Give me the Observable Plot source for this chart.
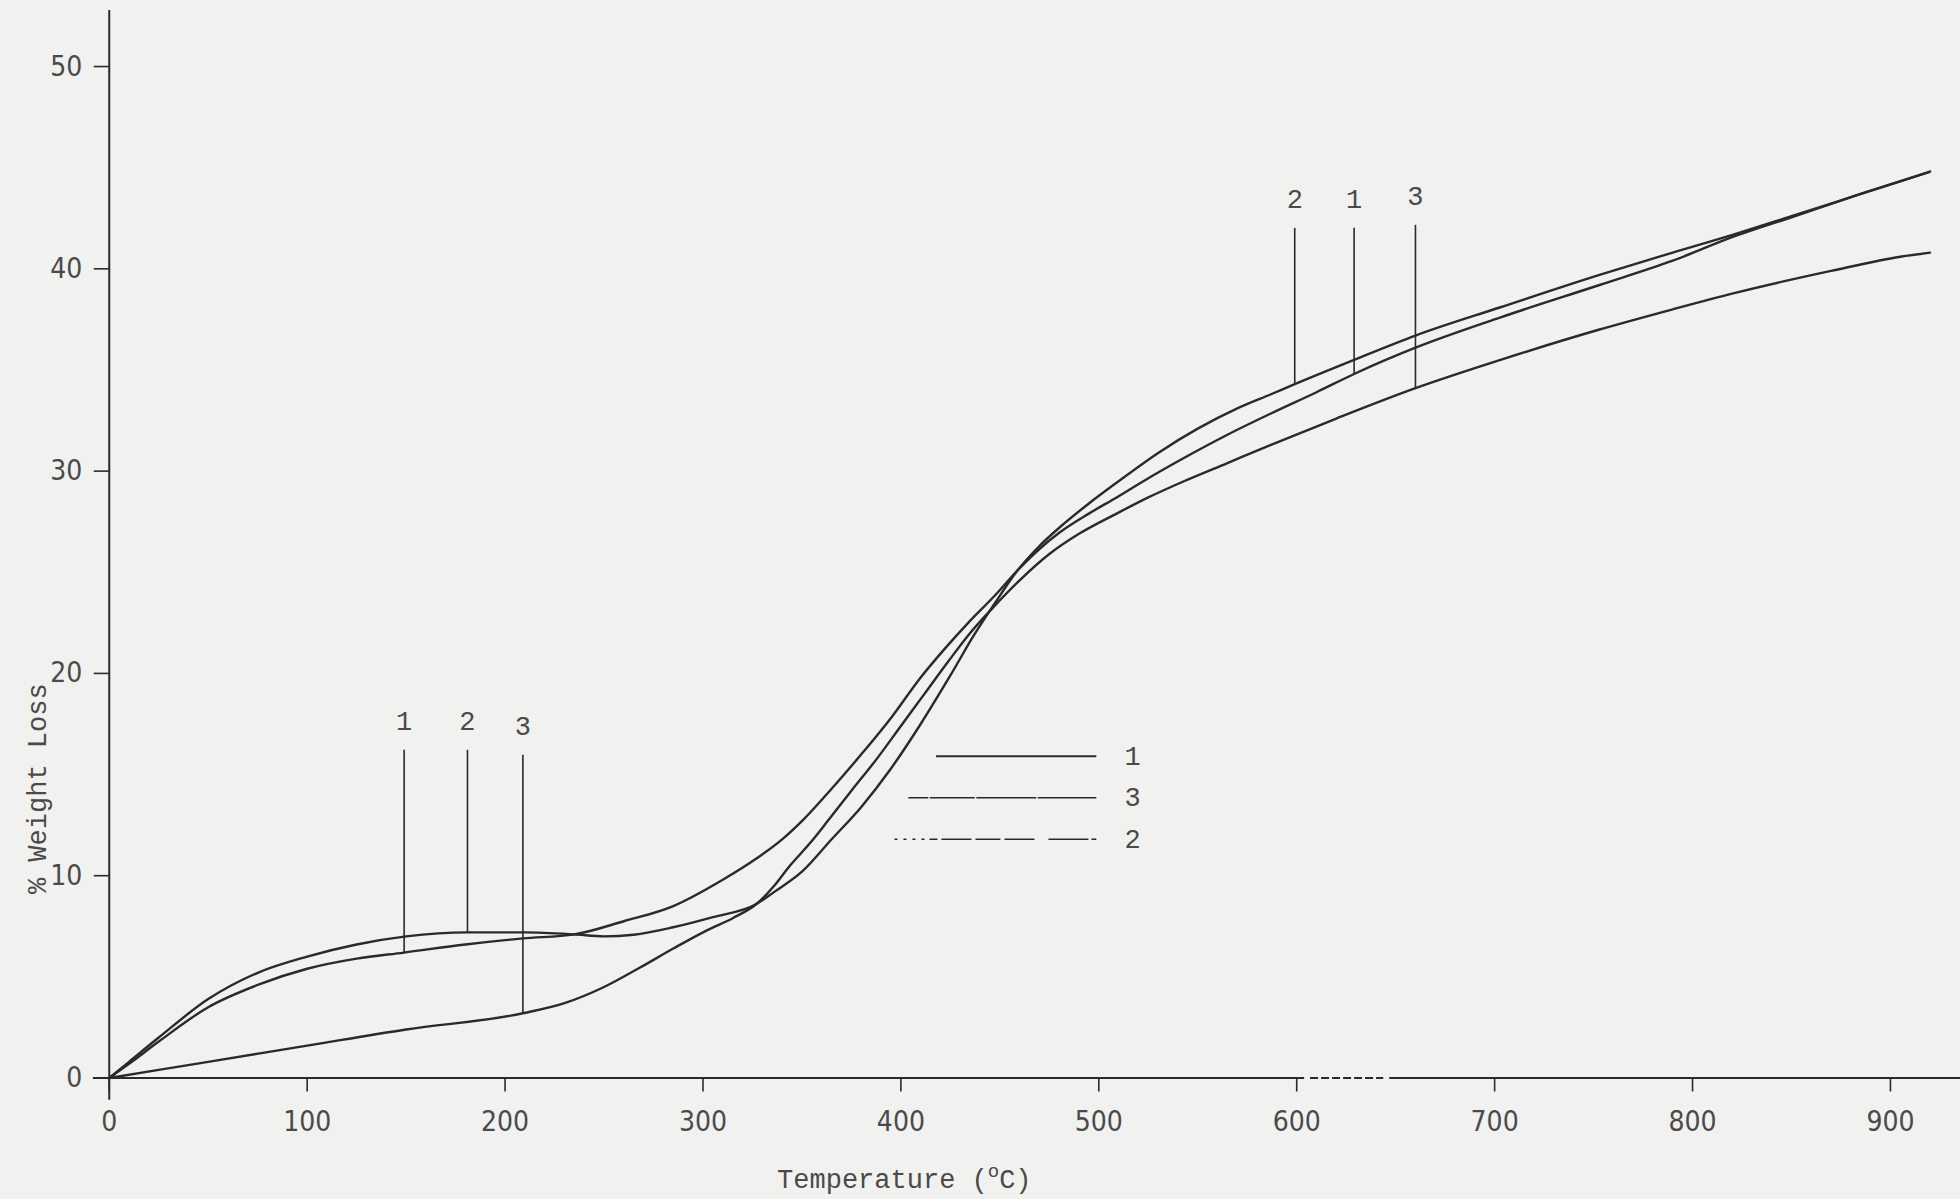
<!DOCTYPE html>
<html>
<head>
<meta charset="utf-8">
<script src="https://cdn.jsdelivr.net/npm/d3@7"></script>
<script src="https://cdn.jsdelivr.net/npm/@observablehq/plot@0.6"></script>
<style>
  html, body { margin: 0; padding: 0; background: #f1f1ef; }
  #chart { width: 1960px; height: 1199px; }
</style>
</head>
<body>
<div id="chart"></div>
<script>
// ---------- data ----------
const xTicks = [0, 100, 200, 300, 400, 500, 600, 700, 800, 900];
const yTicks = [0, 10, 20, 30, 40, 50];

const curve1Temp = [0, 10, 25, 50, 75, 100, 125, 149, 180, 209, 235, 260, 285, 310, 327, 340, 351, 365, 380, 395, 410, 422, 434, 447, 459, 470, 480, 495, 509, 525, 543, 565, 587, 610, 629, 660, 703, 753, 790, 821, 850, 885, 920];
const curve1Loss = [0, 0.7, 1.8, 3.5, 4.6, 5.4, 5.9, 6.2, 6.6, 6.9, 7.1, 7.75, 8.5, 9.8, 10.85, 11.8, 12.8, 14.3, 16.0, 17.8, 19.8, 21.2, 22.5, 23.8, 25.1, 26.15, 26.95, 27.9, 28.7, 29.65, 30.65, 31.8, 32.85, 33.9, 34.8, 36.1, 37.6, 39.2, 40.4, 41.6, 42.55, 43.7, 44.8];

const curve2Temp = [0, 10, 25, 50, 75, 100, 125, 150, 181, 210, 235, 250, 265, 285, 305, 327, 336, 350, 365, 380, 395, 410, 425, 437, 447, 459, 470, 480, 495, 510, 530, 550, 570, 587, 599, 629, 660, 703, 753, 790, 821, 850, 885, 920];
const curve2Loss = [0, 0.8, 2.0, 3.9, 5.2, 6.0, 6.6, 7.0, 7.2, 7.2, 7.1, 7.0, 7.08, 7.45, 7.95, 8.6, 9.2, 10.2, 11.8, 13.4, 15.3, 17.5, 19.9, 21.9, 23.4, 25.1, 26.3, 27.2, 28.4, 29.5, 30.9, 32.1, 33.1, 33.8, 34.3, 35.5, 36.7, 38.1, 39.7, 40.8, 41.7, 42.6, 43.7, 44.8];

const curve3Temp = [0, 50, 100, 150, 209, 230, 250, 268, 285, 302, 315, 327, 336, 344, 354, 363, 375, 388, 400, 412, 424, 435, 447, 460, 475, 490, 509, 525, 543, 565, 587, 620, 660, 703, 753, 790, 821, 870, 905, 920];
const curve3Loss = [0, 0.8, 1.6, 2.4, 3.2, 3.7, 4.5, 5.45, 6.4, 7.3, 7.9, 8.6, 9.5, 10.5, 11.6, 12.7, 14.2, 15.8, 17.4, 19.0, 20.6, 22.0, 23.3, 24.6, 25.9, 26.9, 27.9, 28.7, 29.5, 30.4, 31.3, 32.6, 34.1, 35.5, 37.0, 38.0, 38.8, 39.9, 40.6, 40.8];

const seriesNames = ["1", "2", "3"];

// vertical marker lines with their sample numbers
const markerTemps  = [149, 181, 209, 599, 629, 660];
const markerLabels = ["1", "2", "3", "2", "1", "3"];
const markerBase   = [6.2, 7.2, 3.2, 34.3, 34.8, 34.1];
const markerTop    = [16.2, 16.2, 15.95, 42.0, 42.0, 42.15];

// legend entries (order as drawn, top to bottom)
const legendLabels = ["1", "3", "2"];

const xTitle = "Temperature (";
const xTitleSup = "o";
const xTitleEnd = "C)";
const yTitle = "% Weight Loss";

// ---------- build tables ----------
const lineData = [];
[[curve1Temp, curve1Loss], [curve2Temp, curve2Loss], [curve3Temp, curve3Loss]].forEach(([t, l], k) => {
  t.forEach((x, i) => lineData.push({temp: x, loss: l[i], series: seriesNames[k]}));
});
const markers = markerTemps.map((t, i) => ({temp: t, label: markerLabels[i], base: markerBase[i], top: markerTop[i]}));

// ---------- layout ----------
const X_MAX = 935.4, Y_MAX = 52.77;
const legendX1 = [418, 404, 397];
const legendX2 = 499;
const legendY = [15.9, 13.85, 11.8];
const legendTextX = 513;
const legendDash = [null, "20,1.5,45,1.5,60,1.5,80,1.5", "3,6,3,6,3,6,3,5,8,4,30,4,25,4,30,14,40"];
const legendWidth = [2.0, 1.6, 1.5];

const ink = "#2a2a2a";
const textInk = "#4a4a4a";
const mono = "'Liberation Mono', 'DejaVu Sans Mono', monospace";
const narrow = "'Liberation Sans Narrow', 'DejaVu Sans Condensed', 'Liberation Sans', sans-serif";

const legendMarks = legendLabels.flatMap((lab, i) => [
  Plot.ruleY([legendY[i]], {x1: legendX1[i], x2: legendX2, stroke: ink, strokeWidth: legendWidth[i], strokeDasharray: legendDash[i] || undefined}),
  Plot.text([lab], {x: legendTextX, y: legendY[i], text: d => d, textAnchor: "start", fontSize: 27, fontFamily: mono, fill: textInk})
]);

const plot = Plot.plot({
  width: 1960,
  height: 1199,
  marginLeft: 108.75,
  marginRight: 0,
  marginTop: 10,
  marginBottom: 121.5,
  style: {background: "transparent", color: textInk, fontFamily: narrow},
  x: {domain: [0, X_MAX]},
  y: {domain: [0, Y_MAX]},
  marks: [
    // axis lines
    Plot.ruleX([0], {y1: -1.1, y2: Y_MAX, stroke: ink, strokeWidth: 2}),
    Plot.ruleY([0], {x1: -8, x2: 604, stroke: ink, strokeWidth: 2}),
    Plot.ruleY([0], {x1: 607, x2: 644, stroke: ink, strokeWidth: 1.8, strokeDasharray: "8,3"}),
    Plot.ruleY([0], {x1: 647, x2: X_MAX, stroke: ink, strokeWidth: 2}),
    Plot.axisX({ticks: xTicks, tickSize: 14, tickPadding: 19, fontSize: 28, label: null, stroke: ink, strokeWidth: 1.6, fill: textInk, tickFormat: d => String(d)}),
    Plot.axisY({ticks: yTicks, tickSize: 15, tickPadding: 12, fontSize: 28, label: null, stroke: ink, strokeWidth: 1.6, fill: textInk, tickFormat: d => String(d)}),
    // curves
    Plot.line(lineData, {x: "temp", y: "loss", z: "series", curve: "monotone-x", stroke: ink, strokeWidth: 2.4}),
    // markers
    Plot.ruleX(markers, {x: "temp", y1: "base", y2: "top", stroke: ink, strokeWidth: 1.6}),
    Plot.text(markers, {x: "temp", y: "top", text: "label", dy: -29, fontSize: 27, fontFamily: mono, fill: textInk}),
    // legend
    ...legendMarks,
    // y title
    Plot.text([yTitle], {x: 0, y: 14.3, dx: -72, rotate: -90, text: d => d, fontSize: 27, fontFamily: mono, fill: textInk})
  ]
});

// x title with superscript degree "o"
const xs = plot.scale("x");
const t = d3.select(plot).append("text")
  .attr("x", xs.apply(402))
  .attr("y", 1188)
  .attr("text-anchor", "middle")
  .attr("font-family", mono)
  .attr("font-size", 27)
  .attr("fill", textInk);
t.append("tspan").text(xTitle);
t.append("tspan").attr("dy", -11).attr("font-size", 19).text(xTitleSup);
t.append("tspan").attr("dy", 11).text(xTitleEnd);

document.getElementById("chart").appendChild(plot);
</script>
</body>
</html>
